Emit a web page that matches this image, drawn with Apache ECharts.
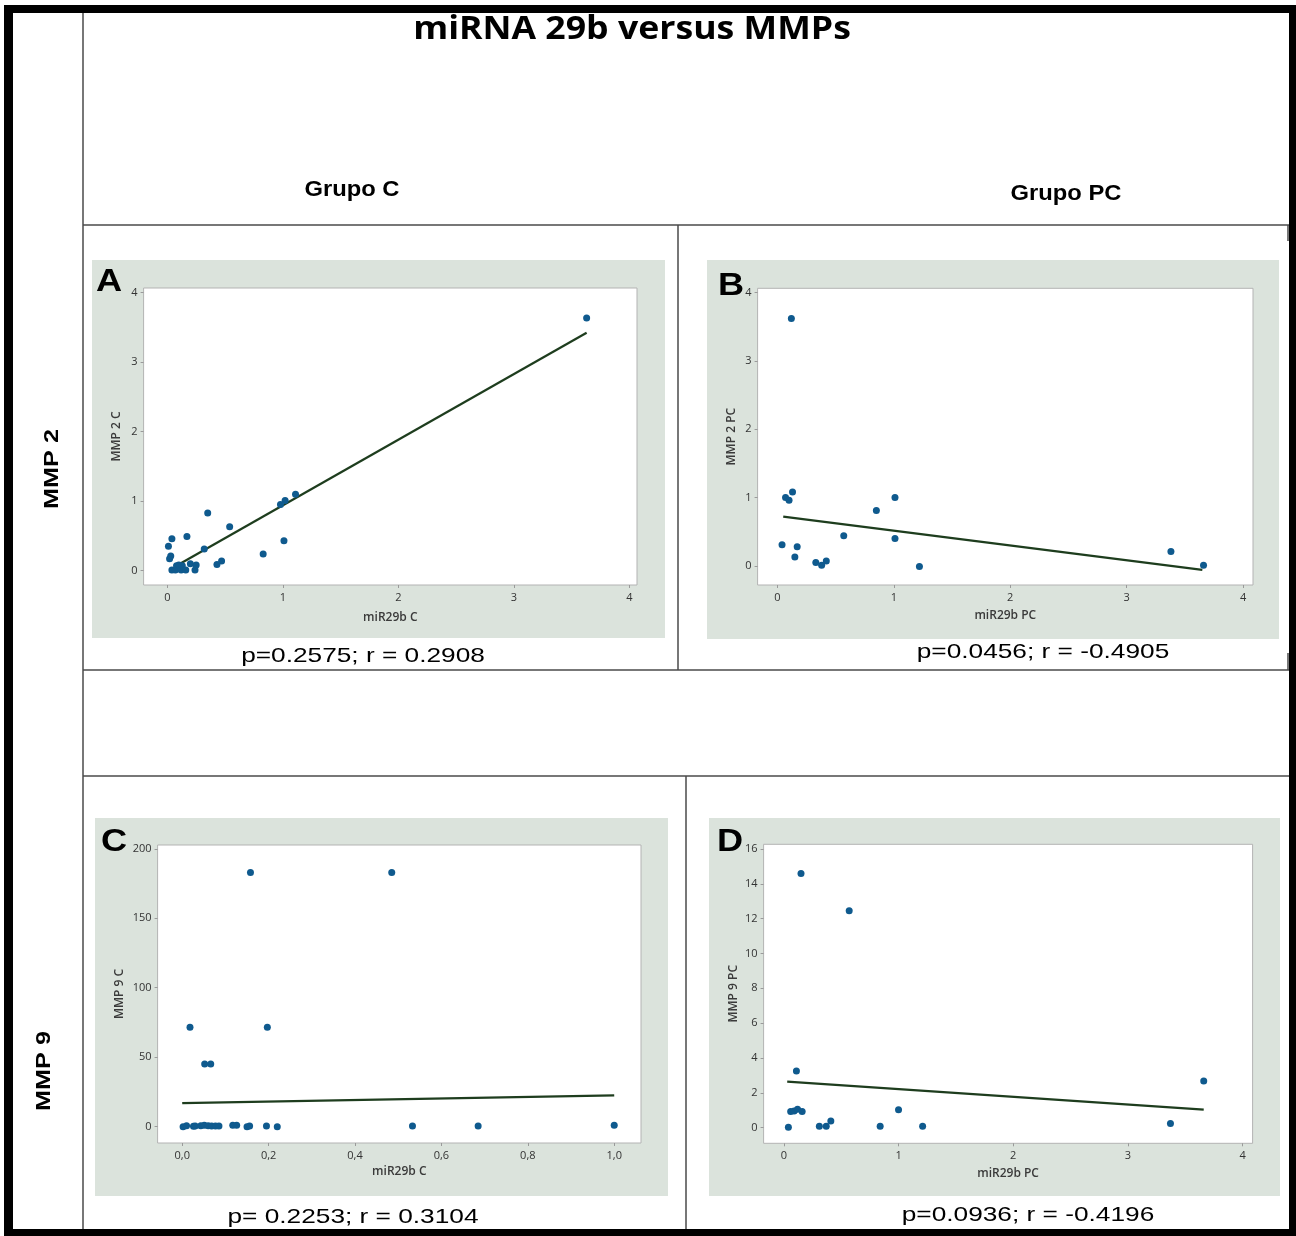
<!DOCTYPE html>
<html>
<head>
<meta charset="utf-8">
<script src="https://cdn.jsdelivr.net/npm/echarts@6/dist/echarts.min.js"></script>
<style>
html,body{margin:0;padding:0;background:#fff;}
#chart{width:1296px;height:1236px;}
</style>
</head>
<body>
<div id="chart"></div>
<script>
// ---------- DATA ----------
// Panel A: miR29b C vs MMP 2 C
const aX = [3.63, 1.11, 1.02, 0.98, 1.01, 0.35, 0.54, 0.83, 0.47, 0.43, 0.32, 0.17, 0.04, 0.01, 0.03, 0.02, 0.04, 0.07, 0.08, 0.10, 0.12, 0.13, 0.16, 0.20, 0.24, 0.25];
const aY = [3.63, 1.10, 1.01, 0.95, 0.43, 0.83, 0.63, 0.24, 0.14, 0.09, 0.31, 0.49, 0.46, 0.35, 0.21, 0.17, 0.01, 0.01, 0.07, 0.08, 0.01, 0.07, 0.01, 0.10, 0.01, 0.08];
const fitA = [[0.11, 0.10], [3.63, 3.42]];
// Panel B: miR29b PC vs MMP 2 PC
const bX = [0.12, 0.13, 0.07, 0.10, 1.01, 0.85, 0.57, 1.01, 0.04, 0.17, 0.15, 0.33, 0.38, 0.42, 1.22, 3.38, 3.66];
const bY = [3.62, 1.08, 1.00, 0.96, 1.00, 0.81, 0.44, 0.40, 0.31, 0.28, 0.13, 0.05, 0.01, 0.07, -0.01, 0.21, 0.01];
const fitB = [[0.05, 0.72], [3.65, -0.06]];
// Panel C: miR29b C vs MMP 9 C
const cX = [0.158, 0.485, 0.018, 0.197, 0.052, 0.066, 1.0, 0.533, 0.685, 0.002, 0.010, 0.026, 0.030, 0.043, 0.051, 0.060, 0.068, 0.077, 0.085, 0.117, 0.126, 0.150, 0.156, 0.195, 0.220];
const cY = [183, 183, 71.5, 71.5, 45, 45, 0.8, 0.3, 0.3, -0.3, 0.5, 0, 0.2, 0.5, 0.8, 0.5, 0.3, 0.3, 0.3, 0.8, 0.8, -0.2, 0.2, 0.3, -0.3];
const fitC = [[0.0, 16.8], [1.0, 22.3]];
// Panel D: miR29b PC vs MMP 9 PC
const dX = [0.15, 0.57, 0.11, 3.66, 0.06, 0.09, 0.12, 0.16, 1.00, 0.41, 0.31, 0.37, 0.84, 1.21, 0.04, 3.37];
const dY = [14.6, 12.46, 3.25, 2.68, 0.92, 0.96, 1.05, 0.92, 1.03, 0.38, 0.08, 0.08, 0.08, 0.08, 0.02, 0.23];
const fitD = [[0.03, 2.64], [3.66, 1.03]];

// Tick labels
const ticksAB_x = [0, 1, 2, 3, 4];
const ticksAB_y = [0, 1, 2, 3, 4];
const ticksC_x = [0, 0.2, 0.4, 0.6, 0.8, 1.0];
const ticksC_y = [0, 50, 100, 150, 200];
const ticksD_x = [0, 1, 2, 3, 4];
const ticksD_y = [0, 2, 4, 6, 8, 10, 12, 14, 16];

// Texts
const mainTitle = 'miRNA 29b versus MMPs';
const colTitles = ['Grupo C', 'Grupo PC'];
const rowTitles = ['MMP 2', 'MMP 9'];
const panelLetters = ['A', 'B', 'C', 'D'];
const xNames = ['miR29b C', 'miR29b PC', 'miR29b C', 'miR29b PC'];
const yNames = ['MMP 2 C', 'MMP 2 PC', 'MMP 9 C', 'MMP 9 PC'];
const statTexts = ['p=0.2575; r = 0.2908', 'p=0.0456; r = -0.4905', 'p= 0.2253; r = 0.3104', 'p=0.0936; r = -0.4196'];

// ---------- LAYOUT ----------
const grids = [
  {left: 143.6, top: 288, width: 493.4, height: 297},
  {left: 757.6, top: 288.3, width: 495.4, height: 296.7},
  {left: 157.6, top: 845, width: 483.4, height: 298},
  {left: 763.6, top: 844.3, width: 489, height: 299}
];
const bgs = [
  {x: 92, y: 260, w: 573, h: 378},
  {x: 707, y: 260, w: 572, h: 379},
  {x: 95, y: 818, w: 573, h: 378},
  {x: 709, y: 818, w: 571, h: 378}
];
const xr = [[-0.205, 4.066], [-0.17, 4.085], [-0.057, 1.062], [-0.176, 4.086]];
const yr = [[-0.206, 4.063], [-0.28, 4.06], [-12, 202.9], [-0.9, 16.27]];
const xTickSets = [ticksAB_x, ticksAB_x, ticksC_x, ticksD_x];
const yTickSets = [ticksAB_y, ticksAB_y, ticksC_y, ticksD_y];
const xNameGaps = [27, 25, 23, 24];
const yNameGaps = [21, 20, 32, 24];
const letterPos = [[109, 282], [731, 286], [114, 842], [730, 842]];
const statPos = [[363, 656], [1043, 652], [353, 1217], [1028, 1215]];

const ptColor = '#0f5a8e';
const lineColor = '#1e3d1e';
const bgColor = '#dbe3dc';
const tableColor = '#4a4a4a';
const fontUI = '"Open Sans", "Noto Sans", sans-serif';
const fontArial = '"Liberation Sans", Arial, sans-serif';

const chart = echarts.init(document.getElementById('chart'), null, {renderer: 'canvas'});

const gridOpt = grids.map(g => ({left: g.left, top: g.top, width: g.width, height: g.height, show: false}));

const xAxes = [0,1,2,3].map(i => ({
  type: 'value', gridIndex: i, min: xr[i][0], max: xr[i][1], position: 'bottom',
  name: xNames[i], nameLocation: 'middle', nameGap: xNameGaps[i],
  nameTextStyle: {fontFamily: fontUI, fontSize: 12, fontWeight: 600, color: '#3a3a3a'},
  axisLine: {show: false, onZero: false},
  axisTick: {show: true, length: 3, customValues: xTickSets[i], lineStyle: {color: '#9a9a9a'}},
  axisLabel: {customValues: xTickSets[i], margin: 7, fontFamily: fontUI, fontSize: 11, color: '#333',
    formatter: i === 2 ? (v => Number(v).toFixed(1).replace('.', ',')) : (v => String(Math.round(v)))},
  splitLine: {show: false}
}));
const yAxes = [0,1,2,3].map(i => ({
  type: 'value', gridIndex: i, min: yr[i][0], max: yr[i][1], position: 'left',
  name: yNames[i], nameLocation: 'middle', nameGap: yNameGaps[i],
  nameTextStyle: {fontFamily: fontUI, fontSize: 12, fontWeight: 600, color: '#3a3a3a'},
  axisLine: {show: false, onZero: false},
  axisTick: {show: true, length: 3, customValues: yTickSets[i], lineStyle: {color: '#9a9a9a'}},
  axisLabel: {customValues: yTickSets[i], margin: 6, fontFamily: fontUI, fontSize: 11, color: '#333',
    formatter: v => String(Math.round(v))},
  splitLine: {show: false}
}));

const ptsX = [aX, bX, cX, dX];
const ptsY = [aY, bY, cY, dY];
const fits = [fitA, fitB, fitC, fitD];
const series = [];
for (let i = 0; i < 4; i++) {
  series.push({
    type: 'line', xAxisIndex: i, yAxisIndex: i, data: fits[i],
    showSymbol: false, symbol: 'none', z: 2, silent: true,
    lineStyle: {color: lineColor, width: 2.2}
  });
  series.push({
    type: 'scatter', xAxisIndex: i, yAxisIndex: i,
    data: ptsX[i].map((x, k) => [x, ptsY[i][k]]),
    symbolSize: 7, z: 3, silent: true,
    itemStyle: {color: ptColor, opacity: 1}
  });
}

const graphic = [];
bgs.forEach(b => graphic.push({type: 'rect', z: -5, silent: true, shape: {x: b.x, y: b.y, width: b.w, height: b.h}, style: {fill: bgColor}}));
grids.forEach(g => graphic.push({type: 'rect', z: -4, silent: true, shape: {x: g.left, y: g.top, width: g.width, height: g.height}, style: {fill: '#ffffff', stroke: '#b3b3b3', lineWidth: 1}}));
const tLines = [
  [83, 12, 83, 1230],
  [83, 225, 1289, 225],
  [678, 225, 678, 670],
  [83, 670, 1289, 670],
  [83, 776, 1289, 776],
  [686, 776, 686, 1230],
  [1288, 225, 1288, 241],
  [1288, 653, 1288, 670]
];
tLines.forEach(l => graphic.push({type: 'line', z: -3, silent: true, shape: {x1: l[0], y1: l[1], x2: l[2], y2: l[3]}, style: {stroke: tableColor, lineWidth: 1.5}}));
[[4, 5, 1292, 8], [4, 5, 9, 1231], [1289, 5, 7, 1231], [4, 1229, 1292, 7]].forEach(r =>
  graphic.push({type: 'rect', z: 10, silent: true, shape: {x: r[0], y: r[1], width: r[2], height: r[3]}, style: {fill: '#000'}}));

function txt(t, x, y, font, size, weight, sx, rot) {
  graphic.push({type: 'text', z: 5, silent: true, x: x, y: y, scaleX: sx || 1, rotation: rot || 0,
    style: {text: t, x: 0, y: 0, align: 'center', verticalAlign: 'middle', fontFamily: font, fontSize: size, fontWeight: weight, fill: '#000'}});
}
txt(mainTitle, 632, 30, fontUI, 33, 'bold', 1.08);
txt(colTitles[0], 352, 190, fontArial, 22, 'bold', 1.08);
txt(colTitles[1], 1066, 194, fontArial, 22, 'bold', 1.08);
txt(rowTitles[0], 52, 469, fontArial, 21, 'bold', 1.2, Math.PI / 2);
txt(rowTitles[1], 44, 1071, fontArial, 21, 'bold', 1.2, Math.PI / 2);
panelLetters.forEach((l, i) => txt(l, letterPos[i][0], letterPos[i][1], fontArial, 32, 'bold', 1.13));
statTexts.forEach((s, i) => txt(s, statPos[i][0], statPos[i][1], fontArial, 21, 'normal', 1.25));

chart.setOption({
  backgroundColor: '#ffffff',
  animation: false,
  grid: gridOpt,
  xAxis: xAxes,
  yAxis: yAxes,
  series: series,
  graphic: {elements: graphic}
});
</script>
</body>
</html>
